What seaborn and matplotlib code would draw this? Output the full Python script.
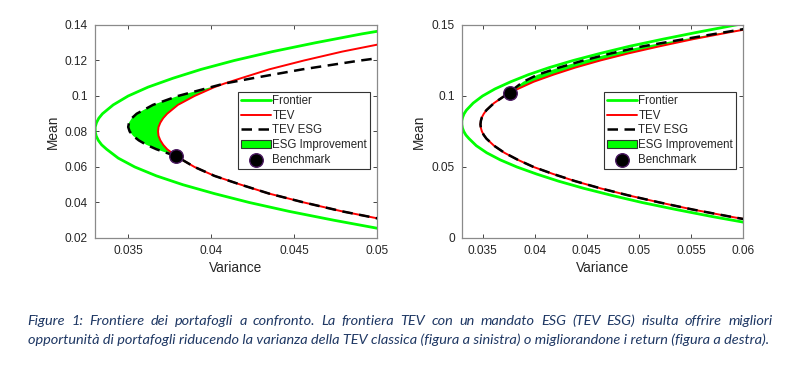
import numpy as np
import matplotlib
matplotlib.use("Agg")
import matplotlib.pyplot as plt
from matplotlib.patches import Patch
import seaborn as sns

# efficient frontier (shared by both panels)
frontier_mean = [0.005, 0.010, 0.015, 0.020, 0.025, 0.030, 0.035, 0.040, 0.045, 0.050,
                 0.055, 0.060, 0.065, 0.070, 0.0725, 0.075, 0.0775, 0.080, 0.0825, 0.085,
                 0.0875, 0.090, 0.095, 0.100, 0.105, 0.110, 0.115, 0.120, 0.125, 0.130,
                 0.135, 0.140, 0.145, 0.150, 0.155]
frontier_var = [0.0649, 0.0609, 0.0571, 0.0536, 0.0503, 0.0474, 0.0447, 0.0423, 0.0402, 0.0383,
                0.0367, 0.0354, 0.0344, 0.0337, 0.0334, 0.0332, 0.03307, 0.03301, 0.03301, 0.03309,
                0.03323, 0.03345, 0.0341, 0.0350, 0.0362, 0.0377, 0.0394, 0.0414, 0.0437, 0.0463,
                0.0491, 0.0523, 0.0557, 0.0593, 0.0633]

# left panel: TEV and TEV ESG
tev_l_mean = [0.020, 0.025, 0.030, 0.035, 0.040, 0.045, 0.050, 0.055, 0.060, 0.066,
              0.070, 0.0725, 0.075, 0.0775, 0.080, 0.0825, 0.085, 0.0875, 0.090, 0.095,
              0.100, 0.105, 0.107, 0.110, 0.115, 0.120, 0.125, 0.130, 0.135, 0.140]
tev_l_var = [0.0566, 0.0534, 0.0506, 0.0479, 0.0456, 0.0435, 0.0418, 0.0402, 0.0390, 0.0379,
             0.03735, 0.03711, 0.03694, 0.03683, 0.0368, 0.03683, 0.03694, 0.03711, 0.03735, 0.0380,
             0.0390, 0.0402, 0.0408, 0.0418, 0.0435, 0.0456, 0.0479, 0.0506, 0.0534, 0.0566]
esg_l_var = [0.0566, 0.0534, 0.0506, 0.0479, 0.0456, 0.0435, 0.0418, 0.0402, 0.0390, 0.0379,
             0.0367, 0.0361, 0.03564, 0.0353, 0.03509, 0.0350, 0.03505, 0.03522, 0.03551, 0.0365,
             0.0380, 0.0400, 0.0408, 0.0425, 0.0455, 0.0490, 0.0531, 0.0576, 0.0627, 0.0683]
bench_l = (0.0379, 0.066)

# right panel: TEV and TEV ESG
tev_r_mean = [0.005, 0.010, 0.015, 0.020, 0.025, 0.030, 0.035, 0.040, 0.045, 0.050,
              0.055, 0.060, 0.065, 0.070, 0.0725, 0.075, 0.0775, 0.080, 0.0825, 0.085,
              0.0875, 0.090, 0.095, 0.100, 0.1024, 0.105, 0.110, 0.115, 0.120, 0.125,
              0.130, 0.135, 0.140, 0.145, 0.150, 0.155]
tev_r_var = [0.0668, 0.0626, 0.0588, 0.0552, 0.0520, 0.0490, 0.0463, 0.0439, 0.0418, 0.0399,
             0.0384, 0.0371, 0.0361, 0.03537, 0.03512, 0.03494, 0.03484, 0.0348, 0.03484, 0.03494,
             0.03512, 0.03537, 0.0361, 0.0371, 0.03765, 0.0384, 0.0399, 0.0418, 0.0439, 0.0463,
             0.0490, 0.0520, 0.0552, 0.0588, 0.0626, 0.0668]
esg_r_var = [0.0668, 0.0626, 0.0588, 0.0552, 0.0520, 0.0490, 0.0463, 0.0439, 0.0418, 0.0399,
             0.0384, 0.0371, 0.0361, 0.03537, 0.03512, 0.03494, 0.03484, 0.0348, 0.03484, 0.03494,
             0.03512, 0.03537, 0.0361, 0.0371, 0.03765, 0.0380, 0.0389, 0.0403, 0.04234, 0.04468,
             0.04732, 0.0504, 0.05433, 0.05834, 0.0624, 0.0668]
bench_r = (0.0376, 0.1024)

xticks_l = [0.035, 0.04, 0.045, 0.05]
xticklabels_l = ["0.035", "0.04", "0.045", "0.05"]
yticks_l = [0.02, 0.04, 0.06, 0.08, 0.1, 0.12, 0.14]
yticklabels_l = ["0.02", "0.04", "0.06", "0.08", "0.1", "0.12", "0.14"]
xticks_r = [0.035, 0.04, 0.045, 0.05, 0.055, 0.06]
xticklabels_r = ["0.035", "0.04", "0.045", "0.05", "0.055", "0.06"]
yticks_r = [0, 0.05, 0.1, 0.15]
yticklabels_r = ["0", "0.05", "0.1", "0.15"]

caption_1 = ("Figure 1: Frontiere dei portafogli a confronto. La frontiera TEV con un mandato ESG "
             "(TEV ESG) risulta offrire migliori")
caption_2 = ("opportunità di portafogli riducendo la varianza della TEV classica (figura a sinistra) "
             "o migliorandone i return (figura a destra).")

GREEN = "#00ff00"
RED = "#ff0000"
INK = "#262626"

sns.set_style("white")
plt.rcParams["font.family"] = ["Liberation Sans", "DejaVu Sans"]

fig = plt.figure(figsize=(7.97, 3.68), dpi=100)
ax_l = fig.add_axes([0.1192, 0.3533, 0.3538, 0.5788])
ax_r = fig.add_axes([0.5793, 0.3533, 0.3530, 0.5788])


def draw_panel(ax, tev_mean, tev_var, esg_var, bench, xlim, ylim, xt, xtl, yt, ytl):
    sns.lineplot(x=frontier_var, y=frontier_mean, sort=False, estimator=None,
                 color=GREEN, lw=2.0, ax=ax, zorder=2)
    h_front = ax.lines[-1]
    esg = np.array(esg_var)
    tev = np.array(tev_var)
    ax.fill_betweenx(tev_mean, esg_var, tev_var, where=esg <= tev, interpolate=True,
                     facecolor=GREEN, edgecolor="none", zorder=1)
    sns.lineplot(x=tev_var, y=tev_mean, sort=False, estimator=None,
                 color=RED, lw=1.4, ax=ax, zorder=3)
    h_tev = ax.lines[-1]
    sns.lineplot(x=esg_var, y=tev_mean, sort=False, estimator=None,
                 color="black", lw=1.8, ax=ax, zorder=4)
    h_esg = ax.lines[-1]
    h_esg.set_dashes([4.2, 2.6])
    sns.scatterplot(x=[bench[0]], y=[bench[1]], s=95, color="black",
                    edgecolor="#4a1860", linewidth=1.0, ax=ax, zorder=5)
    h_bench = ax.collections[-1]

    ax.set_xlim(*xlim)
    ax.set_ylim(*ylim)
    ax.set_xticks(xt)
    ax.set_xticklabels(xtl)
    ax.set_yticks(yt)
    ax.set_yticklabels(ytl)
    ax.tick_params(direction="in", length=3, width=0.6, color=INK, labelsize=8.6,
                   labelcolor=INK, top=True, right=True, bottom=True, left=True, pad=5)
    for s in ax.spines.values():
        s.set_color("#8a8a8a")
        s.set_linewidth(0.9)
    ax.set_xlabel("Variance", fontsize=9.8, color=INK, labelpad=3)
    ax.set_ylabel("Mean", fontsize=9.8, color=INK, labelpad=4)

    h_fill = Patch(facecolor=GREEN, edgecolor="#333333", linewidth=0.8)
    leg = ax.legend([h_front, h_tev, h_esg, h_fill, h_bench],
                    ["Frontier", "TEV", "TEV ESG", "ESG Improvement", "Benchmark"],
                    loc="upper right", bbox_to_anchor=(0.975, 0.685), fontsize=8.3,
                    frameon=True, fancybox=False, framealpha=1, edgecolor="#333333",
                    handlelength=2.6, handletextpad=0.1, labelspacing=0.24,
                    borderpad=0.25, borderaxespad=0.0)
    leg.get_frame().set_linewidth(0.8)


draw_panel(ax_l, tev_l_mean, tev_l_var, esg_l_var, bench_l, (0.033, 0.05), (0.02, 0.14),
           xticks_l, xticklabels_l, yticks_l, yticklabels_l)
draw_panel(ax_r, tev_r_mean, tev_r_var, esg_r_var, bench_r, (0.033, 0.06), (0.0, 0.15),
           xticks_r, xticklabels_r, yticks_r, yticklabels_r)

# caption: scale the last line to the text width, justify the first line word by word
cap_kw = dict(family=["Lato", "DejaVu Sans"], style="italic", color="#1f3864", va="center")
x0_px, x1_px = 27.5, 771.0
W = fig.bbox.width
H = fig.bbox.height
renderer = fig.canvas.get_renderer()
probe = fig.text(0, 0, caption_2, fontsize=10, **cap_kw)
size = 10 * (x1_px - x0_px) / probe.get_window_extent(renderer).width
probe.remove()
fig.text(x0_px / W, 1 - 339.5 / H, caption_2, fontsize=size, **cap_kw)

words = caption_1.split(" ")
texts = [fig.text(0, 1 - 321 / H, w, fontsize=size, **cap_kw) for w in words]
widths = [t.get_window_extent(renderer).width for t in texts]
gap = ((x1_px + 1.5 - x0_px) - sum(widths)) / (len(words) - 1)
x = x0_px
for t, w in zip(texts, widths):
    t.set_x(x / W)
    x += w + gap

fig.savefig("out.png", dpi=100)
